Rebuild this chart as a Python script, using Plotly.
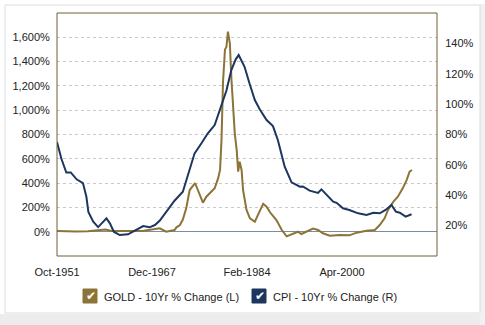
import plotly.graph_objects as go

# ---------------- data ----------------
gold_dates = ["1951-10","1953-01","1955-01","1957-01","1959-05","1960-01","1961-01","1963-01","1965-01",
              "1966-07","1968-05","1969-04","1970-05","1971-01","1971-10","1972-02","1972-09","1973-03",
              "1973-10","1974-05","1974-12","1975-04","1975-07","1976-02","1976-08","1977-03","1978-02",
              "1978-08","1979-03","1979-07","1979-10","1980-01","1980-05","1980-08","1980-11","1981-03",
              "1981-06","1981-10","1982-01","1982-05","1982-08","1982-11","1983-03","1983-06","1983-10",
              "1984-01","1984-08","1985-06","1986-04","1986-11","1987-06","1988-01","1989-02","1990-01",
              "1990-11","1992-01","1992-10","1993-05","1994-04","1995-05","1996-03","1997-01","1998-03",
              "1999-11","2001-07","2002-10","2004-06","2005-11","2006-09","2007-07","2008-02","2009-01",
              "2009-10","2010-08","2011-04","2011-10","2012-03"]
gold_pct = [5,3,2,3,12,18,5,3,5,
            8,22,28,0,8,14,36,55,100,
            195,343,375,400,370,305,239,288,329,
            357,439,508,760,1230,1500,1520,1646,1551,
            1270,1002,810,672,494,576,508,343,250,
            179,110,82,170,230,206,160,96,14,
            -38,-13,0,-19,0,25,14,-13,-33,
            -27,-30,-8,8,14,55,110,179,247,
            288,357,425,494,508]

cpi_dates = ["1951-10","1952-07","1953-05","1954-02","1955-02","1956-03","1956-10","1957-02","1957-12",
             "1958-10","1960-03","1960-10","1961-06","1962-06","1963-11","1965-04","1966-06","1967-07",
             "1968-06","1969-04","1970-05","1971-10","1973-03","1974-05","1975-03","1976-05","1977-06",
             "1978-08","1979-06","1980-08","1981-06","1982-03","1982-09","1983-09","1984-07","1985-06",
             "1986-04","1987-06","1988-07","1989-05","1990-07","1991-09","1993-02","1993-08","1994-10",
             "1996-03","1996-10","1997-08","1998-10","1999-05","2000-06","2001-07","2003-01","2004-06",
             "2005-08","2006-09","2007-09","2008-09","2009-06","2010-02","2011-02","2012-02"]
cpi_pct = [75,64,55,55,50.5,48,39,29,22.6,
           19,24.8,21.5,16,13.8,14.3,17,19.7,18.9,
           20.4,23.3,29,36.4,42.3,56.6,67.6,74.2,80.8,
           86.2,96,109,122.4,129.5,132.3,124.6,113.7,102.7,
           96.6,89.5,85.5,76.4,58.8,48.5,45.6,45.8,43,
           41.5,43.9,40.8,35.8,35,31.4,30.3,28.1,27,
           28.5,28.1,30.3,33.6,29.2,28.5,25.9,27.5]

recessions = [("1953-07","1954-05"),("1957-08","1958-04"),("1960-04","1961-02"),("1969-12","1970-11"),
              ("1973-11","1975-03"),("1980-01","1980-07"),("1981-07","1982-11"),("1990-07","1991-03"),
              ("2001-03","2001-11"),("2007-12","2009-06")]

x_tickvals = ["1951-10-01","1967-12-01","1984-02-01","2000-04-01"]
x_ticktext = ["Oct-1951","Dec-1967","Feb-1984","Apr-2000"]
left_ticks = [0,200,400,600,800,1000,1200,1400,1600]
left_ticktext = ["0%","200%","400%","600%","800%","1,000%","1,200%","1,400%","1,600%"]
right_ticks = [20,40,60,80,100,120,140]
right_ticktext = ["20%","40%","60%","80%","100%","120%","140%"]

GOLD = "#8c7438"
NAVY = "#1d365f"
FRAME = "#6f6134"
FONT = "Liberation Sans, Arial, sans-serif"

W, H = 485, 325
L, R, T, B = 57, 437, 13, 256

def px(x):  # pixel -> paper x
    return (x - L) / (R - L)

def py(y):  # pixel -> paper y
    return (B - y) / (B - T)

fig = go.Figure()
fig.add_trace(go.Scatter(x=gold_dates, y=gold_pct, mode="lines", name="GOLD - 10Yr % Change (L)",
                         line=dict(color=GOLD, width=2), yaxis="y", showlegend=False))
fig.add_trace(go.Scatter(x=cpi_dates, y=cpi_pct, mode="lines", name="CPI - 10Yr % Change (R)",
                         line=dict(color=NAVY, width=2), yaxis="y2", showlegend=False))

shapes = []
for s, e in recessions:
    shapes.append(dict(type="rect", xref="x", yref="paper", x0=s, x1=e, y0=0, y1=1,
                       fillcolor="#efefef", line=dict(width=0), layer="below"))
# plot frame
shapes.append(dict(type="rect", xref="paper", yref="paper", x0=0, x1=1, y0=0, y1=1,
                   line=dict(color=FRAME, width=1), layer="above"))
# outer container box + shadow
shapes.append(dict(type="rect", xref="paper", yref="paper", x0=px(0), x1=px(W), y0=py(H), y1=py(314),
                   fillcolor="#ececec", line=dict(width=0), layer="below"))
shapes.append(dict(type="rect", xref="paper", yref="paper", x0=px(480), x1=px(W), y0=py(H), y1=py(4),
                   fillcolor="#f1f1f1", line=dict(width=0), layer="below"))
shapes.append(dict(type="rect", xref="paper", yref="paper", x0=px(5), x1=px(480), y0=py(313), y1=py(5),
                   fillcolor="white", line=dict(color="#dcdcdc", width=1), layer="below"))

annotations = []
# legend
legend_items = [(83, GOLD, "GOLD - 10Yr % Change (L)"), (252, NAVY, "CPI - 10Yr % Change (R)")]
for x0, col, label in legend_items:
    shapes.append(dict(type="rect", xref="paper", yref="paper", x0=px(x0), x1=px(x0 + 14),
                       y0=py(303), y1=py(289), fillcolor=col, line=dict(color=col, width=1)))
    annotations.append(dict(xref="paper", yref="paper", x=px(x0 + 7.5), y=py(296), text="✔",
                            showarrow=False, font=dict(color="white", size=12, family="DejaVu Sans"),
                            xanchor="center", yanchor="middle"))
    annotations.append(dict(xref="paper", yref="paper", x=px(x0 + 19), y=py(296.5), text=label,
                            showarrow=False, font=dict(color="#222222", size=11, family=FONT),
                            xanchor="left", yanchor="middle"))

fig.update_layout(
    width=W, height=H,
    margin=dict(l=L, r=W - R, t=T, b=H - B),
    paper_bgcolor="white", plot_bgcolor="rgba(0,0,0,0)",
    font=dict(family=FONT, size=11, color="#222222"),
    showlegend=False,
    shapes=shapes, annotations=annotations,
    xaxis=dict(type="date", range=["1951-10-01", "2016-06-01"], tickvals=x_tickvals, ticktext=x_ticktext,
               showgrid=False, zeroline=False, showline=False, ticks="outside", ticklen=6,
               tickcolor="rgba(0,0,0,0)", tickfont=dict(size=11, color="#222222")),
    yaxis=dict(range=[-200, 1800], tickvals=left_ticks, ticktext=left_ticktext,
               showgrid=True, gridcolor="#c9c9c9", griddash="dot", gridwidth=1,
               zeroline=True, zerolinecolor="#7d8ca3", zerolinewidth=1,
               showline=False, ticks="outside", ticklen=4, tickcolor="rgba(0,0,0,0)"),
    yaxis2=dict(range=[0, 160], tickvals=right_ticks, ticktext=right_ticktext, overlaying="y", side="right",
                showgrid=False, zeroline=False, showline=False, ticks="outside", ticklen=5,
                tickcolor="rgba(0,0,0,0)"),
)

fig.write_html("out.html")
